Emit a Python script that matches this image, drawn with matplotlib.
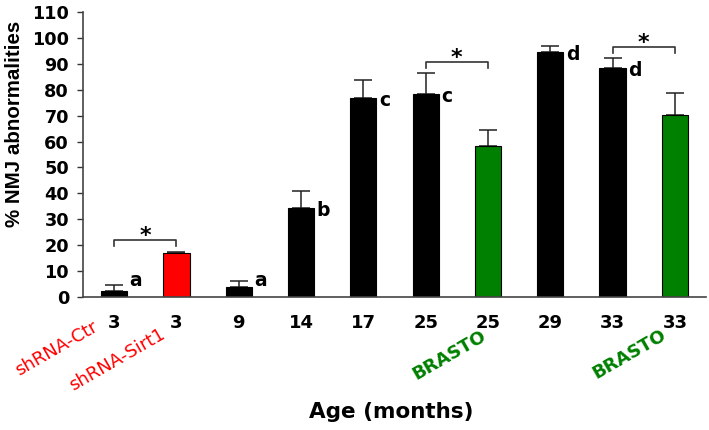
import matplotlib
matplotlib.use("Agg")
import matplotlib.pyplot as plt
import matplotlib.transforms as mtransforms

plt.rcParams['font.family'] = ['DejaVu Sans']

# ---- data ----
tick_labels = ["3", "3", "9", "14", "17", "25", "25", "29", "33", "33"]
values = [2.4, 17.0, 4.0, 34.2, 76.7, 78.3, 58.4, 94.5, 88.3, 70.3]
errors = [2.2, 0.5, 2.2, 6.8, 7.1, 8.1, 6.1, 2.5, 3.9, 8.5]
colors = ["black", "#ff0000", "black", "black", "black", "black",
          "#008000", "black", "black", "#008000"]
letters = ["a", "", "a", "b", "c", "c", "", "d", "d", ""]
# significance brackets: (left bar, right bar, bracket height, leg bottom)
brackets = [(0, 1, 22.0, 19.7), (5, 6, 90.7, 88.4), (8, 9, 96.3, 94.0)]
group_labels = [("shRNA-Ctr", -0.923, -0.181, "#ff0000", "normal"),
                ("shRNA-Sirt1", 0.056, -0.221, "#ff0000", "normal"),
                ("BRASTO", 5.377, -0.204, "#008000", "bold"),
                ("BRASTO", 8.266, -0.200, "#008000", "bold")]

W, H = 709, 430
fig = plt.figure(figsize=(W / 100, H / 100), dpi=100)
ax = fig.add_axes([83 / W, (H - 297) / H, 623 / W, 285 / H])

x = list(range(len(values)))
bw = 0.42
ax.bar(x, values, width=bw, color=colors, edgecolor="black", linewidth=0.8, zorder=2)
ax.errorbar(x, values, yerr=[[0] * len(errors), errors], fmt="none",
            ecolor="#222222", elinewidth=1.1, capsize=6.5, capthick=1.1, zorder=1)

for i, (v, e, l) in enumerate(zip(values, errors, letters)):
    if l:
        ax.text(i + bw / 2 + 0.04, max(v - 1.0, 6.2), l, ha="left", va="center",
                fontsize=13.5, fontweight="bold")

for a, b, h, leg in brackets:
    ax.plot([a, a, b, b], [leg, h, h, leg], color="#333333", lw=1.2, zorder=3)
    ax.text((a + b) / 2, h - 0.6, "*", ha="center", va="baseline",
            fontsize=16, fontweight="bold")

ax.set_xlim(-0.5, 9.5)
ax.set_ylim(0, 110)
ax.set_yticks(range(0, 111, 10))
ax.set_xticks(x)
ax.set_xticklabels(tick_labels, fontsize=13, fontweight="bold")
ax.tick_params(axis="x", length=0, pad=12)
ax.tick_params(axis="y", length=4.5, width=1, color="#333333", labelsize=12.7, pad=5.5)
for lab in ax.get_yticklabels():
    lab.set_fontweight("bold")

for s in ["top", "right"]:
    ax.spines[s].set_visible(False)
for s in ["left", "bottom"]:
    ax.spines[s].set_color("#444444")
    ax.spines[s].set_linewidth(1.2)

trans = mtransforms.blended_transform_factory(ax.transData, ax.transAxes)
for txt, xx, yy, c, fw in group_labels:
    ax.text(xx, yy, txt, transform=trans, rotation=30, ha="center", va="center",
            color=c, fontsize=13, fontweight=fw, rotation_mode="anchor")

ax.set_ylabel("% NMJ abnormalities", fontsize=14.8, fontweight="bold",
              family=["Liberation Sans", "DejaVu Sans"])
ax.yaxis.set_label_coords(-0.094, 0.609)
ax.set_xlabel("Age (months)", fontsize=15.5, fontweight="bold")
ax.xaxis.set_label_coords(0.495, -0.368)

fig.savefig("out.png", dpi=100)
